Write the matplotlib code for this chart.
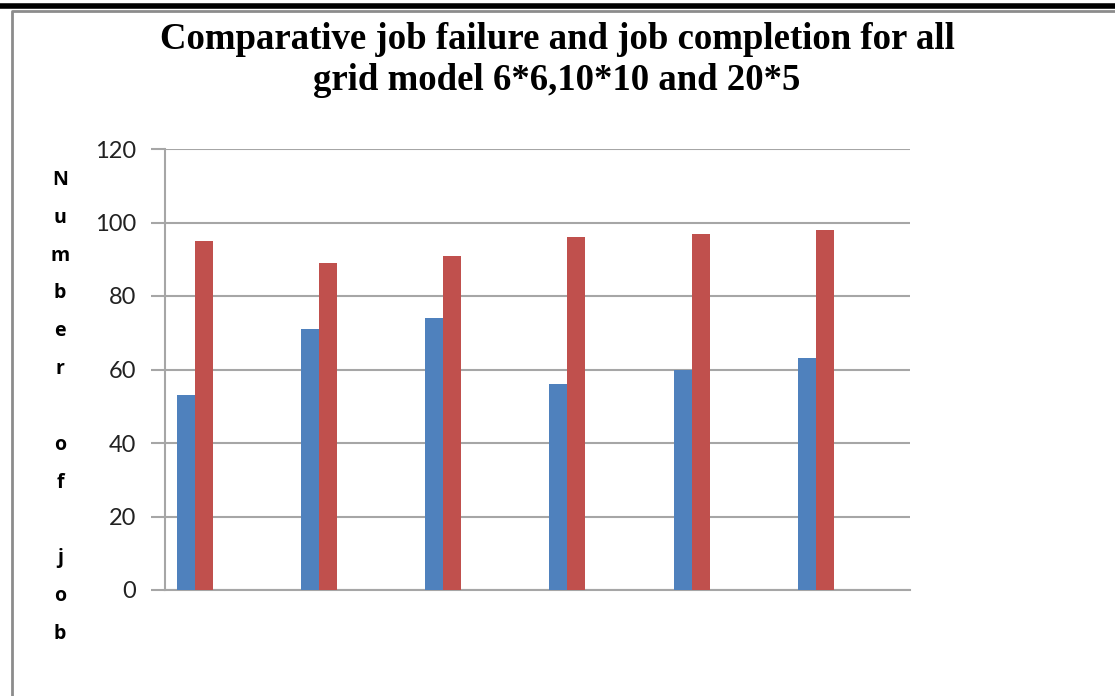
import matplotlib.pyplot as plt
import matplotlib.lines as mlines
import numpy as np

# values
categories = ['1', '2', '3', '4', '5', '6']
job_failure = [53, 71, 74, 56, 60, 63]
job_completion = [95, 89, 91, 96, 97, 98]
y_ticks = [0, 20, 40, 60, 80, 100, 120]

title = 'Comparative job failure and job completion for all\ngrid model 6*6,10*10 and 20*5'
ylabel = 'Number of job'

fig = plt.figure(figsize=(11.15, 6.96), dpi=100)
W, H = 1115, 696
ax = fig.add_axes([165 / W, (H - 590) / H, (910 - 165) / W, (590 - 149) / H])

x = np.arange(len(categories))
w = 0.145
ax.bar(x - 0.331, job_failure, width=w, color='#4F81BD', zorder=3)
ax.bar(x - 0.186, job_completion, width=w, color='#C0504D', zorder=3)

ax.set_xlim(-0.5, len(categories) - 0.5)
ax.set_ylim(0, 120)
ax.set_yticks(y_ticks)
ax.set_xticks([])
ax.yaxis.grid(True, color='#A6A6A6', linewidth=1.5)
ax.set_axisbelow(True)
for s in ['top', 'right']:
    ax.spines[s].set_visible(False)
for s in ['left', 'bottom']:
    ax.spines[s].set_color('#A6A6A6')
    ax.spines[s].set_linewidth(1.5)
ax.tick_params(axis='y', length=10, width=1.5, color='#A6A6A6', pad=11,
               labelsize=17, labelcolor='#222222')
for lbl in ax.get_yticklabels():
    lbl.set_family(['Lato', 'DejaVu Sans'])

fig.text(557 / W, 1 - 60 / H, title, ha='center', va='center',
         fontsize=26.5, fontweight='bold', family='Liberation Serif',
         linespacing=1.25)

# vertical stacked y label
fig.text(60 / W, 1 - 407 / H, '\n'.join(ylabel), ha='center', va='center',
         fontsize=14, fontweight='bold', family=['Open Sans', 'DejaVu Sans'],
         linespacing=2.19)

# page decorations: black rule at top and grey chart frame
fig.add_artist(mlines.Line2D([0, 1], [1 - 5.5 / H, 1 - 5.5 / H], color='black',
                             linewidth=4, transform=fig.transFigure))
fig.add_artist(mlines.Line2D([11.5 / W, 11.5 / W, 1], [0, 1 - 10.5 / H, 1 - 10.5 / H],
                             color='#8C8C8C', linewidth=2, transform=fig.transFigure))

fig.savefig('out.png', dpi=100)
